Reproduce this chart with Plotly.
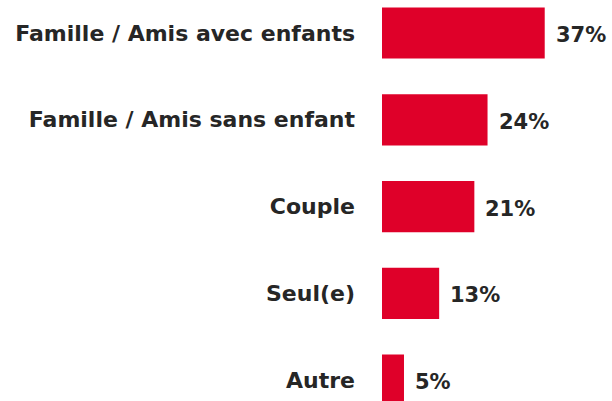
import plotly.graph_objects as go

categories = ["Famille / Amis avec enfants", "Famille / Amis sans enfant", "Couple", "Seul(e)", "Autre"]
values = [37, 24, 21, 13, 5]

bar_color = "#DF0029"
text_color = "#262626"
font_family = "'DejaVu Sans', sans-serif"

fig = go.Figure()
fig.add_trace(go.Bar(
    x=values,
    y=categories,
    orientation="h",
    marker=dict(color=bar_color, line=dict(width=0)),
    width=0.59,
    hoverinfo="skip",
))

for c, v in zip(categories, values):
    fig.add_annotation(
        x=v, y=c, text=f"<b>{v}%</b>", showarrow=False,
        xanchor="left", yanchor="middle", xshift=9, yshift=-2,
        font=dict(family=font_family, size=21, color=text_color),
    )

fig.update_layout(
    width=612, height=401,
    margin=dict(l=382, r=0, t=0, b=0),
    paper_bgcolor="white", plot_bgcolor="white",
    showlegend=False,
    font=dict(family=font_family, size=21, color=text_color),
)
fig.update_xaxes(range=[0, 52.3], visible=False)
fig.update_yaxes(
    range=[4.24, -0.38],
    showgrid=False, zeroline=False, showline=False,
    ticks="", ticklabelstandoff=26,
    tickvals=categories,
    ticktext=[f"<b>{c}</b>" for c in categories],
    tickfont=dict(family=font_family, size=22, color=text_color),
)

fig.write_html("out.html", config={"displayModeBar": False},
               post_script="document.body.style.margin='0';")
